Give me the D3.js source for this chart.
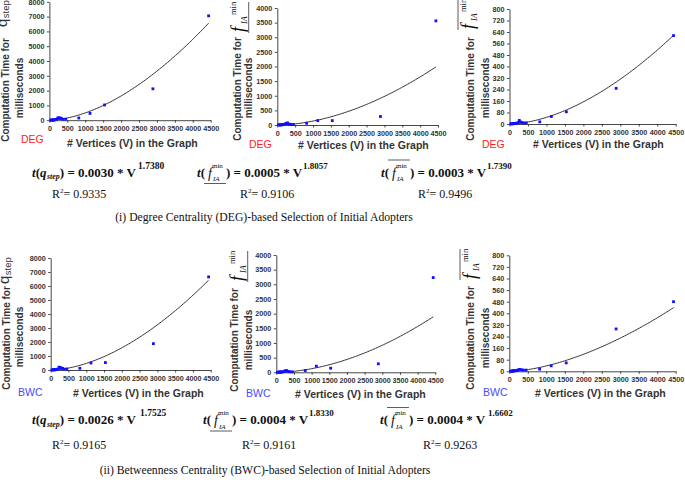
<!DOCTYPE html>
<html><head><meta charset="utf-8">
<script src="https://cdn.jsdelivr.net/npm/d3@7"></script>
<style>body{margin:0;background:#fff}</style>
</head><body>
<svg id="c" width="685" height="480"></svg>
<script>
// ---------- data ----------
const vertices   = [34, 62, 77, 105, 115, 130, 150, 198, 234, 265, 290, 332, 379, 453, 820, 1133, 1539, 2888, 4441];
const degQstep   = [5, 10, 12, 15, 20, 25, 30, 60, 150, 160, 140, 130, 60, 70, 150, 460, 1030, 2120, 7050];
const degFmin    = [2, 4, 5, 6, 8, 10, 12, 20, 50, 60, 70, 30, 20, 15, 60, 150, 150, 290, 3560];
const degFminBar = [1, 1, 2, 2, 3, 3, 4, 6, 10, 25, 15, 10, 8, 8, 15, 52, 85, 248, 615];
const bwcQstep   = [5, 10, 12, 15, 20, 25, 30, 60, 200, 180, 140, 120, 60, 70, 120, 500, 530, 1880, 6650];
const bwcFmin    = [2, 4, 5, 6, 8, 10, 12, 20, 40, 50, 60, 30, 20, 15, 60, 210, 140, 290, 3230];
const bwcFminBar = [1, 1, 2, 2, 3, 3, 4, 6, 8, 12, 12, 10, 8, 8, 15, 38, 58, 292, 480];

const xTicks     = [0, 500, 1000, 1500, 2000, 2500, 3000, 3500, 4000, 4500];
const yTicksQ    = [0, 1000, 2000, 3000, 4000, 5000, 6000, 7000, 8000];
const yTicksF    = [0, 500, 1000, 1500, 2000, 2500, 3000, 3500, 4000];
const yTicksFbar = [0, 80, 160, 240, 320, 400, 480, 560, 640, 720, 800];

// power-law fits  t = a * V^b (unrounded a, displayed rounded)
const fitCoef    = [0.0030, 0.000515, 0.00028, 0.0026, 0.00039, 0.000386];
const fitExp     = [1.7380, 1.8057, 1.7390, 1.7525, 1.8330, 1.6602];
const coefLabels = ["0.0030", "0.0005", "0.0003", "0.0026", "0.0004", "0.0004"];
const expLabels  = ["1.7380", "1.8057", "1.7390", "1.7525", "1.8330", "1.6602"];
const r2Labels   = ["0.9335", "0.9106", "0.9496", "0.9165", "0.9161", "0.9263"];
const methods    = ["DEG", "DEG", "DEG", "BWC", "BWC", "BWC"];
const xTitle     = "# Vertices (V) in the Graph";
const yTitle1    = "Computation Time for";
const yTitle2    = "milliseconds";
const captions   = ["(i) Degree Centrality (DEG)-based Selection of Initial Adopters",
                    "(ii) Betweenness Centrality (BWC)-based Selection of Initial Adopters"];

const series = [degQstep, degFmin, degFminBar, bwcQstep, bwcFmin, bwcFminBar];
const yTickSets = [yTicksQ, yTicksF, yTicksFbar, yTicksQ, yTicksF, yTicksFbar];
const kinds = ["q", "under", "over", "q", "under", "over"];

// ---------- layout ----------
const SANS = "'Liberation Sans', Arial, sans-serif";
const SERIF = "'Liberation Serif', 'Times New Roman', serif";
const L = [
  {x0:49.4, x1:210.7, yb:120.2, yt:1.8,  tX:8.5,   tC:90,  mX:22.5, mC:88,  sX:7,   sY:27,  dX:21,  dY:143, lX:67,  lY:146.5},
  {x0:277.3,x1:438,   yb:125,   yt:8,    tX:240.5, tC:89,  mX:252,  mC:88,  sX:244, sY:32,  dX:249, dY:148, lX:298, lY:149},
  {x0:509.5,x1:675.7, yb:124,   yt:9,    tX:473.5, tC:89,  mX:489,  mC:88,  sX:474, sY:29,  dX:482, dY:148, lX:533, lY:148},
  {x0:50.7, x1:210.7, yb:370,   yt:258,  tX:10,    tC:338, mX:23,   mC:337, sX:8.5, sY:284, dX:18,  dY:396, lX:73,  lY:397},
  {x0:276.3,x1:435.3, yb:372.3, yt:255,  tX:238,   tC:340, mX:251.5,mC:340, sX:243, sY:281, dX:246, dY:397, lX:295, lY:398},
  {x0:509.3,x1:675.7, yb:371.3, yt:255.3,tX:473.5, tC:338, mX:489,  mC:338, sX:476, sY:279, dX:483, dY:396, lX:535, lY:397}
];
const EQ = [
  {x:32,  y:176.5, rx:52,  ry:198},
  {x:197, y:176.5, rx:240, ry:198},
  {x:381, y:176.5, rx:418, ry:198},
  {x:32,  y:424,   rx:52,  ry:449},
  {x:203, y:424,   rx:242, ry:449},
  {x:380, y:424,   rx:423, ry:449}
];
const CAP = [{x:264, y:221}, {x:265, y:474}];

const svg = d3.select("#c");

function txt(g, x, y, s, o) {
  const t = g.append("text").attr("x", x).attr("y", y)
    .attr("font-family", o.fam || SERIF).attr("font-size", o.size)
    .attr("font-weight", o.bold ? "bold" : "normal")
    .attr("font-style", o.italic ? "italic" : "normal")
    .attr("fill", o.fill || "#111").text(s);
  if (o.anchor) t.attr("text-anchor", o.anchor);
  return t;
}
function w(t) { return t.node().getComputedTextLength(); }

series.forEach((vals, i) => {
  const p = L[i];
  const g = svg.append("g");
  const ymax = d3.max(yTickSets[i]);
  const x = d3.scaleLinear().domain([0, 4500]).range([p.x0, p.x1]);
  const y = d3.scaleLinear().domain([0, ymax]).range([p.yb, p.yt]);

  const ax = g.append("g").attr("transform", `translate(0,${p.yb})`)
    .call(d3.axisBottom(x).tickValues(xTicks).tickSize(2.5).tickSizeOuter(0).tickPadding(3.5).tickFormat(d3.format("d")));
  const ay = g.append("g").attr("transform", `translate(${p.x0},0)`)
    .call(d3.axisLeft(y).tickValues(yTickSets[i]).tickSize(2.5).tickSizeOuter(0).tickPadding(2.5).tickFormat(d3.format("d")));
  [ax, ay].forEach(a => {
    a.selectAll("path,line").attr("stroke", "#333").attr("stroke-width", 0.9);
    a.selectAll("text").attr("font-family", SANS).attr("font-size", 7.2).attr("fill", "#333").attr("font-weight", "bold");
  });

  // trend curve
  const xs = d3.range(0, 101).map(k => vertices[0] + (d3.max(vertices) - vertices[0]) * k / 100);
  g.append("path").datum(xs)
    .attr("fill", "none").attr("stroke", "#333").attr("stroke-width", 1)
    .attr("d", d3.line().x(v => x(v)).y(v => y(fitCoef[i] * Math.pow(v, fitExp[i]))));

  // points
  g.selectAll("rect.pt").data(vertices.map((v, k) => [v, vals[k]])).join("rect")
    .attr("class", "pt")
    .attr("x", d => x(d[0]) - 1.4).attr("y", d => y(d[1]) - 1.4)
    .attr("width", 2.8).attr("height", 2.8).attr("fill", "#1010ff");

  // axis titles
  txt(g, p.lX, p.lY, xTitle, {fam: SANS, size: 10.5, bold: true, fill: "#333"});
  txt(g, p.dX, p.dY, methods[i], {fam: SANS, size: 10.5, fill: methods[i] === "DEG" ? "#ff1a1a" : "#4a4aff"});
  const t1 = g.append("g").attr("transform", `translate(${p.tX},${p.tC}) rotate(-90)`);
  txt(t1, 0, 0, yTitle1, {fam: SANS, size: 10, bold: true, fill: "#333", anchor: "middle"});
  const t2 = g.append("g").attr("transform", `translate(${p.mX},${p.mC}) rotate(-90)`);
  txt(t2, 0, 0, yTitle2, {fam: SANS, size: 10, bold: true, fill: "#333", anchor: "middle"});

  const sg = g.append("g").attr("transform", `translate(${p.sX},${p.sY}) rotate(-90)`);
  if (kinds[i] === "q") {
    const q = txt(sg, 0, 0, "q", {fam: SANS, size: 15, fill: "#333"});
    txt(sg, w(q) + 0.5, 2, "step", {fam: SANS, size: 9.5, fill: "#333"});
  } else {
    txt(sg, 0, 0, "f", {size: 18, italic: true});
    txt(sg, 8, 3, "IA", {size: 8, italic: true});
    txt(sg, 17, -8, "min", {size: 8.5});
    const ly = kinds[i] === "under" ? 4.7 : -16;
    sg.append("line").attr("x1", -1).attr("x2", 30).attr("y1", ly).attr("y2", ly)
      .attr("stroke", "#333").attr("stroke-width", 0.8);
  }

  // equation
  const e = EQ[i];
  const eg = svg.append("g");
  let cx = e.x;
  const bold = {size: 13, bold: true};
  if (kinds[i] === "q") {
    let t = txt(eg, cx, e.y, "t", {...bold, italic: true}); cx += w(t);
    t = txt(eg, cx, e.y, "(", bold); cx += w(t);
    t = txt(eg, cx, e.y, "q", {...bold, italic: true}); cx += w(t) + 0.5;
    t = txt(eg, cx, e.y + 2.5, "step", {size: 8, bold: true, italic: true}); cx += w(t);
  } else {
    let t = txt(eg, cx, e.y, "t", {...bold, italic: true}); cx += w(t);
    t = txt(eg, cx, e.y, "(", bold); cx += w(t) + 3;
    const fx = cx;
    txt(eg, fx, e.y + 1, "f", {size: 14, italic: true});
    txt(eg, fx + 4, e.y - 9, "min", {size: 7});
    txt(eg, fx + 5, e.y + 4.5, "IA", {size: 7, italic: true});
    const ly = kinds[i] === "under" ? e.y + 7 : e.y - 16.5;
    eg.append("line").attr("x1", fx - 4).attr("x2", fx + 18).attr("y1", ly).attr("y2", ly)
      .attr("stroke", "#333").attr("stroke-width", 0.8);
    cx = fx + 18;
  }
  let t = txt(eg, cx, e.y, `) = ${coefLabels[i]} * V`, bold); cx += w(t);
  const sp = kinds[i] === "q" ? (i >= 3 ? 4 : 2) : (i === 5 ? 3 : 1);
  txt(eg, cx + sp, e.y - 8, expLabels[i], {size: kinds[i] === "q" ? 9.5 : 9, bold: true});

  // R^2
  let rx = e.rx;
  t = txt(eg, rx, e.ry, "R", {size: 12}); rx += w(t);
  t = txt(eg, rx, e.ry - 5, "2", {size: 7}); rx += w(t);
  txt(eg, rx, e.ry, ` = ${r2Labels[i]}`, {size: 12});
});

captions.forEach((c, k) => txt(svg, CAP[k].x, CAP[k].y, c, {size: 11.7, anchor: "middle"}));
</script>
</body></html>
